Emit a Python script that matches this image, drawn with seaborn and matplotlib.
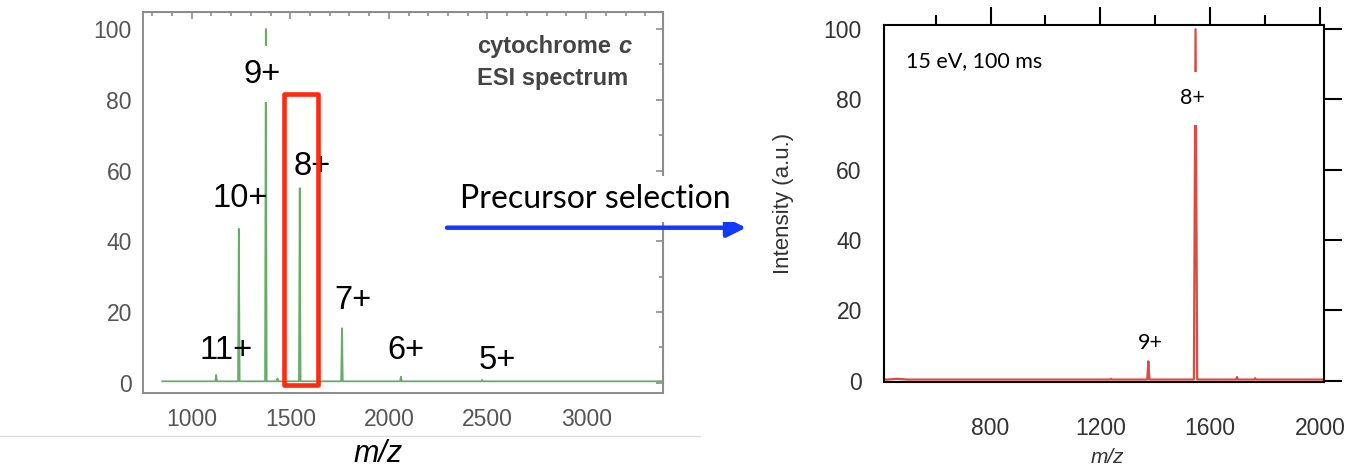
import numpy as np
import pandas as pd
import matplotlib
matplotlib.use("Agg")
import matplotlib.pyplot as plt
import seaborn as sns
from matplotlib.ticker import MultipleLocator, FixedLocator
from matplotlib.patches import Rectangle, FancyArrowPatch, ArrowStyle
from matplotlib.lines import Line2D

# ESI spectrum of cytochrome c (charge-state envelope)
esi_mz = [1124, 1239, 1376, 1435, 1548, 1762, 2061, 2473]
esi_intensity = [2.2, 43.5, 100, 1.2, 55, 15.4, 1.7, 0.8]
esi_halfwidth = [4, 4, 4, 4, 4, 4, 4, 4]
esi_baseline = 0.4
esi_mz_range = [850, 3390]
esi_charge_labels = ["11+", "10+", "9+", "8+", "7+", "6+", "5+"]
esi_label_mz = [1174, 1244, 1355, 1612, 1820, 2087, 2548]
esi_label_y = [9.1, 52, 87.2, 61.2, 23.2, 9.1, 6.2]

# spectrum after isolating the 8+ precursor (15 eV, 100 ms)
sel_mz = [460, 1239, 1375, 1547, 1698, 1764]
sel_intensity = [0.5, 0.5, 5.5, 100, 1.0, 0.7]
sel_halfwidth = [35, 3, 4, 6, 3, 3]
sel_baseline = 0.3
sel_mz_range = [415, 2015]
sel_charge_labels = ["9+", "8+"]
sel_label_mz = [1382, 1537]
sel_label_y = [10.7, 80.4]

# m/z window of the selected precursor
selection_window = [1466, 1640]
selection_height = [-0.65, 81.7]


def stick_profile(mz, inten, halfwidth, base, mz_range):
    xs, ys = [mz_range[0]], [base]
    for m, h, w in sorted(zip(mz, inten, halfwidth)):
        xs += [m - w, m, m + w]
        ys += [base, h, base]
    xs.append(mz_range[1])
    ys.append(base)
    return pd.DataFrame({"mz": xs, "intensity": ys})


sns.set_style("white")
plt.rcParams["font.family"] = ["Liberation Sans", "DejaVu Sans"]

W, H = 1351, 473
fig = plt.figure(figsize=(W / 100, H / 100), dpi=100)
fig.patch.set_facecolor("white")

# ---------------- left panel: ESI spectrum ----------------
axL = fig.add_axes([143 / W, 1 - 393 / H, 520 / W, 381.3 / H])
esi_df = stick_profile(esi_mz, esi_intensity, esi_halfwidth, esi_baseline, esi_mz_range)
sns.lineplot(data=esi_df, x="mz", y="intensity", sort=False, estimator=None,
             ax=axL, color="#4e9e50", lw=1.3, alpha=0.85)
axL.set_xlim(753, 3390)
axL.set_ylim(-2.91, 104.9)
grey = "#8c8c8c"
for s in axL.spines.values():
    s.set_color(grey)
    s.set_linewidth(1.4)
axL.xaxis.set_major_locator(MultipleLocator(500))
axL.xaxis.set_minor_locator(MultipleLocator(100))
axL.yaxis.set_major_locator(MultipleLocator(20))
axL.yaxis.set_minor_locator(MultipleLocator(10))
axL.tick_params(which="both", direction="out", color=grey, width=1.2,
                labelsize=16.5, labelcolor="#555555")
axL.tick_params(which="major", length=5)
axL.tick_params(which="minor", length=3)
axL.tick_params(axis="x", pad=6)
axL.tick_params(axis="y", pad=3)
axL.set_ylabel("")
axL.set_xlabel("m/z", fontsize=22, fontstyle="italic", color="black")
axL.xaxis.set_label_coords(0.452, -0.12)

topL = axL.secondary_xaxis("top")
topL.xaxis.set_major_locator(MultipleLocator(500))
topL.xaxis.set_minor_locator(MultipleLocator(100))
topL.tick_params(which="both", direction="in", color=grey, width=1.2, labeltop=False)
topL.tick_params(which="major", length=5)
topL.tick_params(which="minor", length=3)
topL.spines["top"].set_color(grey)
rightL = axL.secondary_yaxis("right")
rightL.yaxis.set_major_locator(MultipleLocator(20))
rightL.yaxis.set_minor_locator(MultipleLocator(10))
rightL.tick_params(which="both", direction="in", color=grey, width=1.2, labelright=False)
rightL.tick_params(which="major", length=5)
rightL.tick_params(which="minor", length=3)
rightL.spines["right"].set_color(grey)

for lab, x, y in zip(esi_charge_labels, esi_label_mz, esi_label_y):
    kw = {}
    if lab == "9+":
        kw["bbox"] = dict(fc="white", ec="none", pad=9)
    axL.text(x, y, lab, ha="center", va="center", fontsize=23.5, color="black",
             zorder=6, **kw)

t1 = axL.text(2447, 95.1, "cytochrome", fontsize=17, fontweight="bold",
              color="#444444", va="center", ha="left")
axL.annotate("c", xy=(1, 0), xycoords=t1, xytext=(5, 0), textcoords="offset points",
             fontsize=17, fontweight="bold", fontstyle="italic", color="#444444",
             va="bottom", ha="left")
axL.text(2447, 86.1, "ESI spectrum", fontsize=17, fontweight="bold",
         color="#444444", va="center", ha="left")

axL.add_patch(Rectangle((selection_window[0], selection_height[0]),
                        selection_window[1] - selection_window[0],
                        selection_height[1] - selection_height[0],
                        fill=False, ec="#ff2a10", lw=3.3, joinstyle="round", zorder=7))

# ---------------- right panel: isolated precursor ----------------
axR = fig.add_axes([884 / W, 1 - 382 / H, 440 / W, 357 / H])
sel_df = stick_profile(sel_mz, sel_intensity, sel_halfwidth, sel_baseline, sel_mz_range)
sns.lineplot(data=sel_df, x="mz", y="intensity", sort=False, estimator=None,
             ax=axR, color="#dc4a44", lw=1.6)
axR.set_xlim(412, 2015)
axR.set_ylim(-0.4, 101.2)
for s in axR.spines.values():
    s.set_color("black")
    s.set_linewidth(1.5)
axR.xaxis.set_major_locator(FixedLocator([800, 1200, 1600, 2000]))
axR.xaxis.set_minor_locator(FixedLocator([600, 1000, 1400, 1800]))
axR.yaxis.set_major_locator(MultipleLocator(20))
axR.tick_params(which="both", direction="out", top=True, right=True,
                color="black", width=1.5, labelsize=16.5, labelcolor="#333333")
axR.tick_params(which="major", length=13)
axR.tick_params(which="minor", length=7)
axR.tick_params(axis="x", pad=12)
axR.tick_params(axis="y", pad=3)
axR.set_ylabel("Intensity (a.u.)", fontsize=16, color="#333333")
axR.yaxis.set_label_coords(-0.205, 0.5)
axR.set_xlabel("m/z", fontsize=15, fontstyle="italic", color="#333333")
axR.xaxis.set_label_coords(0.507, -0.185)

for lab, x, y in zip(sel_charge_labels, sel_label_mz, sel_label_y):
    kw = {}
    if lab == "8+":
        kw["bbox"] = dict(fc="white", ec="none", pad=12)
    axR.text(x, y, lab, ha="center", va="center", fontsize=15.5, family="Lato",
             color="black", zorder=6, **kw)
axR.text(491, 90.8, "15 eV, 100 ms", ha="left", va="center", fontsize=15.5,
         family="Lato", color="black")

# ---------------- connector between the panels ----------------
fig.add_artist(Line2D([0, 700 / W], [1 - 436 / H] * 2, color="#dedede", lw=1))
fig.text(595 / W, 1 - 199 / H, "Precursor selection", fontsize=23, family="Lato",
         ha="center", va="center", color="black",
         bbox=dict(fc="white", ec="none", pad=6))
fig.add_artist(FancyArrowPatch((447 / W, 1 - 227.7 / H), (746 / W, 1 - 227.7 / H),
                               transform=fig.transFigure,
                               arrowstyle=ArrowStyle("-|>", head_length=0.96, head_width=0.48),
                               mutation_scale=12, color="#1438ff", lw=3.2,
                               shrinkA=0, shrinkB=0))

fig.savefig("out.png", dpi=100, facecolor="white")
